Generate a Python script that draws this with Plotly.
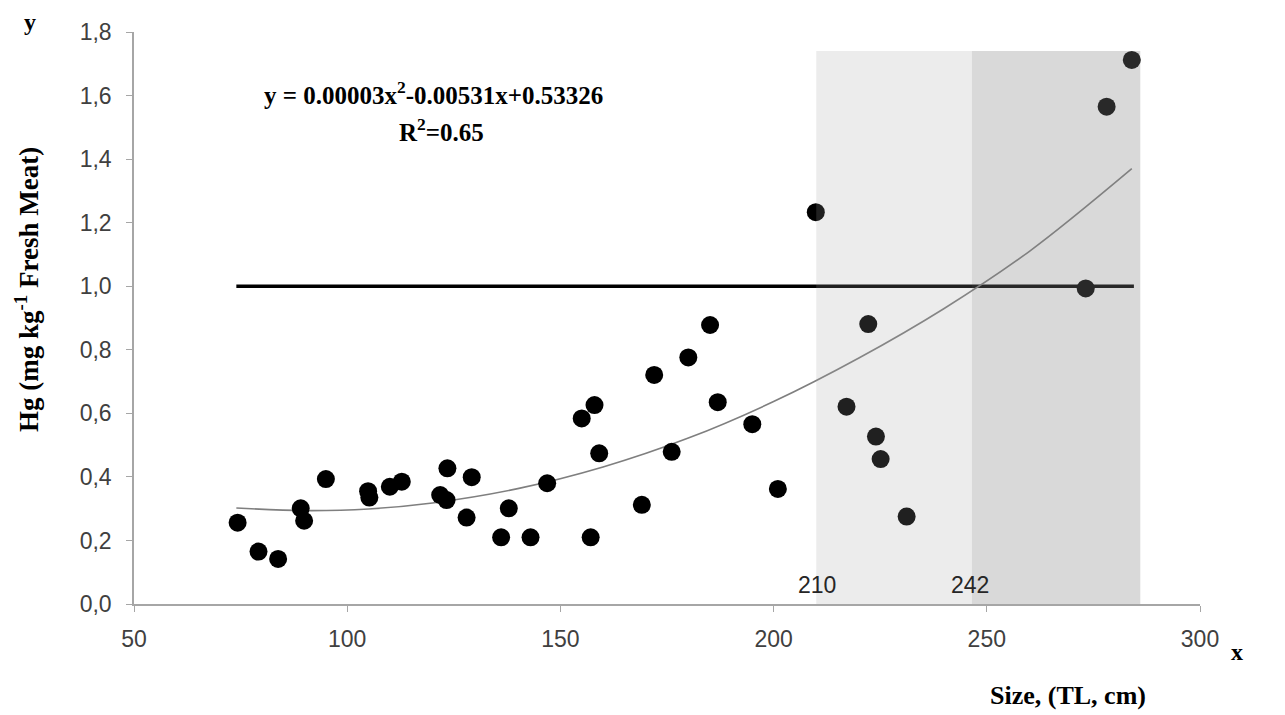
import plotly.graph_objects as go

# Scatter data
size_cm = [74.3, 79.2, 83.8, 89.1, 89.9, 95.0, 104.9, 105.2, 110.0, 112.8,
           121.8, 123.3, 123.5, 128.0, 129.2, 136.1, 137.9, 143.0, 146.9, 155.0,
           157.1, 158.0, 159.1, 169.1, 172.0, 176.1, 180.0, 185.1, 186.9, 195.0,
           201.0, 209.9, 217.1, 222.2, 224.0, 225.1, 231.2, 273.2, 278.1, 284.0]
hg = [0.256, 0.165, 0.142, 0.301, 0.262, 0.393, 0.355, 0.335, 0.369, 0.385,
      0.343, 0.327, 0.427, 0.272, 0.399, 0.210, 0.301, 0.210, 0.380, 0.584,
      0.210, 0.626, 0.474, 0.312, 0.721, 0.479, 0.776, 0.878, 0.635, 0.566,
      0.362, 1.233, 0.621, 0.881, 0.527, 0.456, 0.275, 0.993, 1.565, 1.712]

# Trend curve samples
trend_x = [74, 90, 105, 120, 140, 160, 180, 200, 220, 240, 260, 284]
trend_y = [0.302, 0.294, 0.299, 0.318, 0.363, 0.431, 0.522, 0.637, 0.774, 0.930, 1.110, 1.370]

# Limit line
limit_x = [74, 284.5]
limit_y = [1.0, 1.0]

# Shaded zones
zone_edges = [210, 246.5, 286]
zone_top = 1.74
zone_labels = ["210", "242"]

x_ticks = [50, 100, 150, 200, 250, 300]
y_ticks = [0.0, 0.2, 0.4, 0.6, 0.8, 1.0, 1.2, 1.4, 1.6, 1.8]

serif = "Liberation Serif, Times New Roman, serif"
sans = "Liberation Sans, Arial, sans-serif"

# page is rendered with an 8px body margin; compensate
OFF = 8
W, H = 1285 - OFF, 715 - OFF
PL, PT, PR, PB = 134, 32, 1200, 604   # plot area in page pixels
pw, ph = PR - PL, PB - PT

fig = go.Figure()

fig.add_trace(go.Scatter(x=limit_x, y=limit_y, mode="lines",
                         line=dict(color="black", width=3.5), hoverinfo="skip"))
fig.add_trace(go.Scatter(x=trend_x, y=trend_y, mode="lines",
                         line=dict(color="#7f7f7f", width=1.6, shape="spline"), hoverinfo="skip"))
fig.add_trace(go.Scatter(x=size_cm, y=hg, mode="markers",
                         marker=dict(color="black", size=18, line=dict(width=0))))

fig.add_shape(type="rect", xref="x", yref="y", x0=zone_edges[0], x1=zone_edges[1], y0=0, y1=zone_top,
              fillcolor="rgba(160,160,160,0.2)", line=dict(width=0), layer="above")
fig.add_shape(type="rect", xref="x", yref="y", x0=zone_edges[1], x1=zone_edges[2], y0=0, y1=zone_top,
              fillcolor="rgba(131,131,131,0.31)", line=dict(width=0), layer="above")


def px(xp, yp):
    return (xp - PL) / pw, 1 - (yp - PT) / ph


def add_px_text(text, xp, yp, font, angle=0):
    xx, yy = px(xp, yp)
    fig.add_annotation(x=xx, y=yy, xref="paper", yref="paper", text=text, showarrow=False,
                       xanchor="center", yanchor="middle", textangle=angle, font=font)


add_px_text(zone_labels[0], 817, 585, dict(family=sans, size=23, color="#262626"))
add_px_text(zone_labels[1], 970, 585, dict(family=sans, size=23, color="#262626"))
add_px_text("<b>y = 0.00003x<sup>2</sup>-0.00531x+0.53326</b>", 433, 93,
            dict(family=serif, size=25, color="black"))
add_px_text("<b>R<sup>2</sup>=0.65</b>", 441, 130, dict(family=serif, size=25, color="black"))
add_px_text("<b>Hg (mg kg<sup>-1</sup> Fresh Meat)</b>", 27, 290,
            dict(family=serif, size=27, color="black"), angle=-90)
add_px_text("<b>Size, (TL, cm)</b>", 1068, 695, dict(family=serif, size=26, color="black"))
add_px_text("<b>y</b>", 30, 22, dict(family=serif, size=24, color="black"))
add_px_text("<b>x</b>", 1237, 652, dict(family=serif, size=24, color="black"))

fig.update_layout(
    width=W, height=H,
    margin=dict(l=PL - OFF, r=W - (PR - OFF), t=PT - OFF, b=H - (PB - OFF)),
    paper_bgcolor="white", plot_bgcolor="white",
    showlegend=False,
    separators=",.",
    xaxis=dict(range=[50, 300], tickvals=x_ticks, ticks="outside", ticklen=6, tickcolor="#a6a6a6",
               showline=True, linecolor="#a6a6a6", linewidth=1.5, showgrid=False, zeroline=False,
               ticklabelstandoff=8,
               tickfont=dict(family=sans, size=23, color="#404040")),
    yaxis=dict(range=[0, 1.8], tickvals=y_ticks, tickformat=".1f", ticks="outside", ticklen=6,
               tickcolor="#a6a6a6", showline=True, linecolor="#a6a6a6", linewidth=1.5,
               showgrid=False, zeroline=False, ticklabelstandoff=10,
               tickfont=dict(family=sans, size=23, color="#404040")),
)

fig.write_html("out.html")
